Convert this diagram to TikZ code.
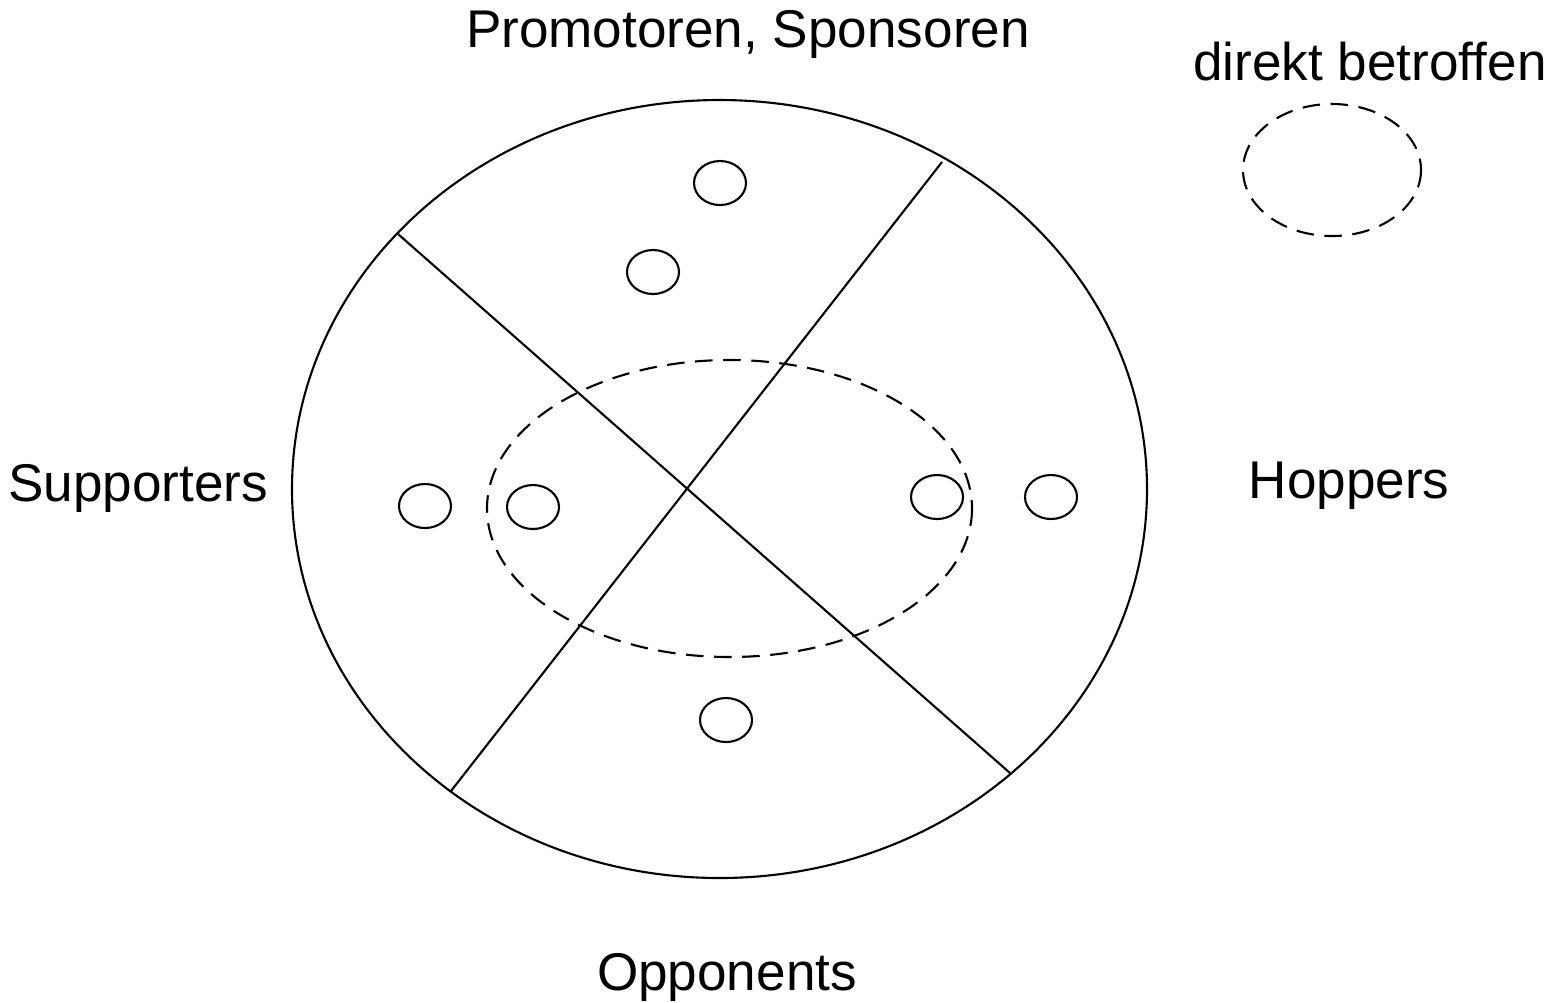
\documentclass[tikz,border=0pt]{standalone}
\usepackage{fontspec}
\setmainfont[Ligatures=NoCommon]{Liberation Sans}
\begin{document}
\begin{tikzpicture}[x=0.01cm,y=-0.01cm,line width=0.6pt]
\useasboundingbox (0,0) rectangle (1567,1002);
\tikzset{lbl/.style={font=\fontsize{15.1}{18}\selectfont}}

\draw (719.5,489) ellipse (427.5 and 389);
\draw (398,234) -- (1010,773);
\draw (942,162) -- (451,791);
\draw[dashed,dash pattern=on 5pt off 3pt] (729.5,508.5) ellipse (242.5 and 148.5);

\draw (720,183) ellipse (26 and 22);
\draw (653,272) ellipse (26 and 22);
\draw (425,506) ellipse (26 and 22);
\draw (533,507) ellipse (26 and 22);
\draw (937,497) ellipse (26 and 22);
\draw (1051,497) ellipse (26 and 22);
\draw (726,720) ellipse (26 and 22);

\draw[dashed,dash pattern=on 5pt off 3pt] (1332,170) ellipse (89 and 66);

\node[lbl] (prom) at (748,34) {Promotoren, Sponsoren};
\node[lbl] (dir) at (1370,62) {direkt betroffen};
\node[lbl] (sup) at (138,488) {Supporters};
\node[lbl] (hop) at (1349,486) {Hoppers};
\node[lbl] (opp) at (727,977) {Opponents};
\end{tikzpicture}
\end{document}
